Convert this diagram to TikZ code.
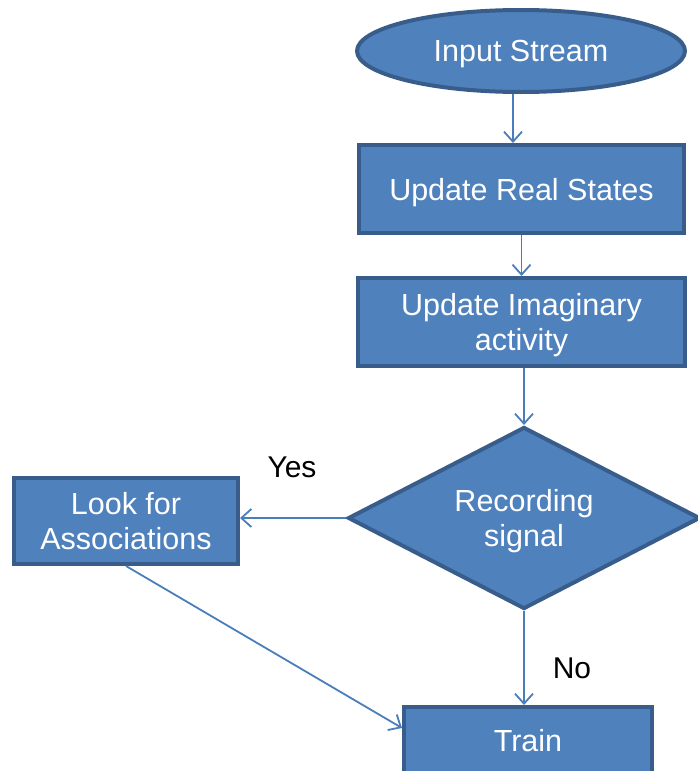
\documentclass[tikz,border=0pt]{standalone}
\usepackage{fontspec}
\setmainfont{Liberation Sans}
\usetikzlibrary{shapes.geometric,arrows.meta}
\definecolor{boxfill}{HTML}{4F81BD}
\definecolor{boxline}{HTML}{385D8A}
\definecolor{wire}{HTML}{4A7EBB}
\tikzset{
  shapebase/.style={fill=boxfill, draw=boxline, line width=4pt, text=white,
    inner sep=0pt, align=center, text depth=0pt, font=\fontsize{30.5}{35}\selectfont},
  procbox/.style={shapebase, rectangle},
  startnode/.style={shapebase, ellipse},
  decision/.style={shapebase, diamond, shape aspect=1.93},
  flow/.style={draw=wire, line width=1.8pt, -{Straight Barb[length=10pt,width=18pt,line width=1.8pt]}},
  caption/.style={text=black, font=\fontsize{30}{35}\selectfont, inner sep=0pt}
}
\begin{document}
\begin{tikzpicture}[x=1pt,y=1pt]
  \useasboundingbox (0,0) rectangle (698,-771);

  % flow nodes
  \node[startnode, minimum width=328pt, minimum height=82pt] (input) at (521,-51) {Input Stream};
  \node[procbox, minimum width=325pt, minimum height=88pt] (real) at (521.5,-189) {Update Real States};
  \node[procbox, minimum width=327pt, minimum height=88pt] (imag) at (521.5,-322) {Update Imaginary\\activity};
  \node[decision, minimum width=352pt, minimum height=182pt] (rec) at (524,-518) {Recording\\signal};
  \node[procbox, minimum width=224pt, minimum height=86pt] (look) at (126,-521) {Look for\\Associations};
  % the last box runs past the lower edge of the page
  \node[procbox, minimum width=248pt, text height=44pt, text depth=50pt, anchor=base] (train) at (528,-751) {Train};

  % branch labels
  \node[caption] (yes) at (292,-467) {Yes};
  \node[caption] (no) at (572,-668) {No};

  % connectors
  \draw[flow] ([xshift=-8pt]input.south) -- ([xshift=-8.5pt]real.north);
  \draw[flow] (real.south) -- (imag.north);
  \draw[flow] (imag.south -| rec.north) -- (rec.north);
  \draw[flow] (rec.west) -- (rec.west -| look.east);
  \draw[flow] (rec.south) -- (rec.south |- train.north);
  \draw[flow] (look.south) -- ([yshift=13pt]train.west |- 0,-741);
\end{tikzpicture}
\end{document}
